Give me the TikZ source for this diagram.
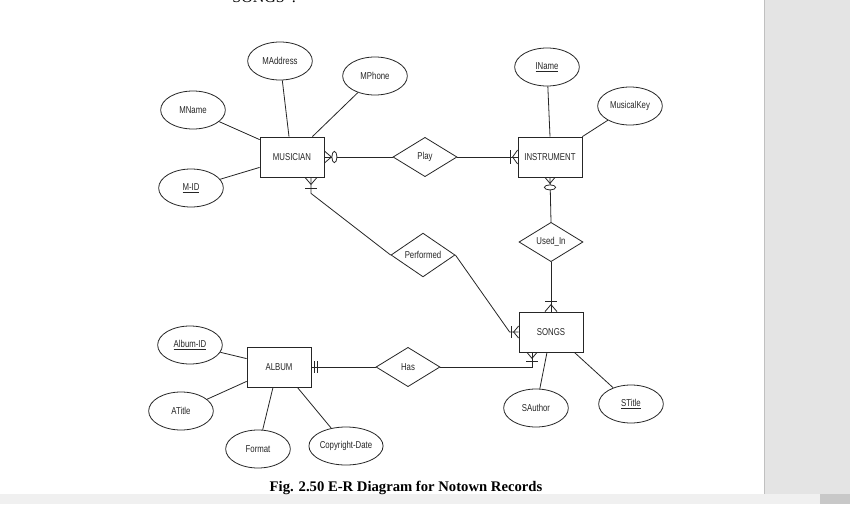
\documentclass[tikz,border=0pt]{standalone}
\usepackage{fontspec}
\setmainfont{Liberation Sans}
\newfontfamily\diagfont[FakeStretch=0.78]{Liberation Sans}
\newfontfamily\capfont{Liberation Serif}
\usetikzlibrary{shapes.geometric,calc}
\definecolor{side}{HTML}{E4E4E4}
\definecolor{barl}{HTML}{F0F0F0}
\definecolor{bard}{HTML}{C8C8C8}
\definecolor{edge}{HTML}{C0C0C0}
\definecolor{ink}{HTML}{262626}
\begin{document}
\begin{tikzpicture}[x=0.75pt,y=-0.75pt,
  ln/.style={draw=ink, line width=0.6pt},
  dfont/.style={font=\diagfont\fontsize{7.5}{9}\selectfont, text=ink},
  attr/.style={ellipse, ln, dfont, minimum width=48.5pt, minimum height=28.5pt, inner sep=0pt},
  ent/.style={rectangle, ln, dfont, minimum width=48pt, minimum height=30pt, inner sep=0pt},
  rel/.style={diamond, ln, dfont, minimum width=48pt, minimum height=29.5pt, inner sep=0pt},
  zero/.style={ellipse, ln, fill=white, inner sep=0pt}
]
\useasboundingbox (0,0) rectangle (850,504);
% page background
\fill[white] (0,0) rectangle (850,504);
\fill[side] (764,0) rectangle (850,494);
\draw[edge, line width=0.6pt] (764,0) -- (764,494);
\fill[barl] (0,494) rectangle (820,504);
\fill[bard] (820,494) rectangle (850,504);

% cut-off text at the top
\node[anchor=base west, inner sep=0pt, font=\capfont\fontsize{12}{14}\selectfont] (toptext) at (225,2.5) {“SONGS”.};

% entities
\node[ent] (mus)   at (292,157) {MUSICIAN};
\node[ent] (inst)  at (550,157) {INSTRUMENT};
\node[ent] (songs) at (551,332) {SONGS};
\node[ent] (album) at (279,367) {ALBUM};

% relationships
\node[rel] (play) at (425,157) {Play};
\node[rel] (perf) at (423,255) {Performed};
\node[rel] (used) at (551,242) {Used\_In};
\node[rel] (has)  at (408,367) {Has};

% attributes
\node[attr] (maddr)  at (280,61)  {MAddress};
\node[attr] (mphone) at (375,76)  {MPhone};
\node[attr] (mname)  at (193,110) {MName};
\node[attr] (mid)    at (191,188) {\underline{M-ID}};
\node[attr] (iname)  at (547,67)  {\underline{IName}};
\node[attr] (mkey)   at (630,106) {MusicalKey};
\node[attr] (albid)  at (190,345) {\underline{Album-ID}};
\node[attr] (atitle) at (181,411) {ATitle};
\node[attr] (format) at (258,449) {Format};
\node[attr] (cdate)  at (346,446) {Copyright-Date};
\node[attr] (sauth)  at (536,408) {SAuthor};
\node[attr] (stitle) at (631,404) {\underline{STitle}};

% attribute links
\draw[ln] (maddr)  -- ($(mus.north)+(-3,0)$);
\draw[ln] (mphone) -- ($(mus.north east)+(-12,0)$);
\draw[ln] (mname)  -- ($(mus.north west)+(0,3)$);
\draw[ln] (mid)    -- ($(mus.south west)+(0,-10)$);
\draw[ln] (iname)  -- (inst.north);
\draw[ln] (mkey)   -- (inst.north east);
\draw[ln] (albid)  -- ($(album.north west)+(0,12)$);
\draw[ln] (atitle) -- ($(album.south west)+(0,-6)$);
\draw[ln] (format) -- ($(album.south)+(-6,0)$);
\draw[ln] (cdate)  -- ($(album.south east)+(-14,0)$);
\draw[ln] (sauth)  -- ($(songs.south)+(-4,0)$);
\draw[ln] (stitle) -- ($(songs.south east)+(-9,0)$);

% MUSICIAN -- Play (zero or many at MUSICIAN)
\draw[ln] (mus.east) -- (play.west);
\draw[ln] ($(mus.east)+(0,-6)$) -- ($(mus.east)+(7,0)$) -- ($(mus.east)+(0,6)$);
\node[zero, minimum width=3.8pt, minimum height=8.5pt] (mz) at ($(mus.east)+(10,0)$) {};

% Play -- INSTRUMENT (one or many at INSTRUMENT)
\draw[ln] (play.east) -- (inst.west);
\draw[ln] ($(inst.west)+(0,-7)$) -- ($(inst.west)+(-5,0)$) -- ($(inst.west)+(0,7)$);
\draw[ln] ($(inst.west)+(-7,-7)$) -- ($(inst.west)+(-7,7)$);

% INSTRUMENT -- Used_In (zero or many at INSTRUMENT)
\draw[ln] (inst.south) -- (used.north);
\draw[ln] ($(inst.south)+(-5,0)$) -- ($(inst.south)+(0,6)$) -- ($(inst.south)+(5,0)$);
\node[zero, minimum width=8.5pt, minimum height=3.8pt] (iz) at ($(inst.south)+(0,10)$) {};

% Used_In -- SONGS (one or many at SONGS)
\draw[ln] (used.south) -- (songs.north);
\draw[ln] ($(songs.north)+(-6,0)$) -- ($(songs.north)+(0,-7)$) -- ($(songs.north)+(6,0)$);
\draw[ln] ($(songs.north)+(-6,-10)$) -- ($(songs.north)+(6,-10)$);

% MUSICIAN -- Performed (one or many at MUSICIAN)
\coordinate (mp) at ($(mus.south)+(19,0)$);
\draw[ln] (mp) -- ++(0,16) -- (perf.west);
\draw[ln] ($(mp)+(-6,0)$) -- ($(mp)+(0,7)$) -- ($(mp)+(6,0)$);
\draw[ln] ($(mp)+(-6,11)$) -- ($(mp)+(6,11)$);

% Performed -- SONGS (one or many at SONGS)
\draw[ln] (perf.east) -- ($(songs.west)+(-9,0)$) -- (songs.west);
\draw[ln] ($(songs.west)+(0,-6)$) -- ($(songs.west)+(-5,0)$) -- ($(songs.west)+(0,6)$);
\draw[ln] ($(songs.west)+(-7,-6)$) -- ($(songs.west)+(-7,6)$);

% ALBUM -- Has (exactly one at ALBUM)
\draw[ln] (album.east) -- (has.west);
\draw[ln] ($(album.east)+(3,-6)$) -- ($(album.east)+(3,6)$);
\draw[ln] ($(album.east)+(6,-6)$) -- ($(album.east)+(6,6)$);

% Has -- SONGS (one or many at SONGS)
\coordinate (sh) at ($(songs.south)+(-19,0)$);
\draw[ln] (has.east) -| (sh);
\draw[ln] ($(sh)+(-5,0)$) -- ($(sh)+(0,6)$) -- ($(sh)+(5,0)$);
\draw[ln] ($(sh)+(-6,9)$) -- ($(sh)+(6,9)$);

% caption
\node[font=\capfont\bfseries\fontsize{11}{13}\selectfont, inner sep=0pt] (cap) at (406,488) {Fig. 2.50 E-R Diagram for Notown Records};
\end{tikzpicture}
\end{document}
